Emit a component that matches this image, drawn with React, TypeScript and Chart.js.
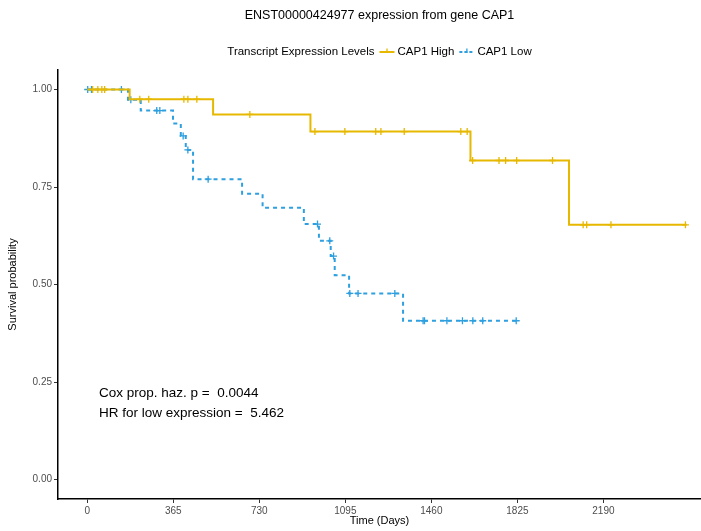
import React, { useEffect, useRef } from "react";
import { Chart, registerables } from "chart.js";

Chart.register(...registerables);

const FONT = '"Liberation Sans", Arial, sans-serif';

const TITLE = "ENST00000424977 expression from gene CAP1";
const LEGEND_TITLE = "Transcript Expression Levels";
const SERIES_NAMES = ["CAP1 High", "CAP1 Low"];
const SERIES_COLORS = ["#E7B800", "#2E9FDF"];
const X_TITLE = "Time (Days)";
const Y_TITLE = "Survival probability";
const X_TICKS = [0, 365, 730, 1095, 1460, 1825, 2190];
const Y_TICKS = [0, 0.25, 0.5, 0.75, 1];
const ANNOTATION = ["Cox prop. haz. p =  0.0044", "HR for low expression =  5.462"];
const ANNOTATION_X = 50;
const ANNOTATION_Y = [0.222, 0.171];

// CAP1 High: event times and survival after each step (last = end of follow-up)
const highTimes = [0, 180, 534, 947, 1626, 2044, 2543];
const highSurv = [1, 0.975, 0.936, 0.892, 0.818, 0.653, 0.653];
const highCensor = [23, 45, 62, 74, 223, 261, 410, 427, 465, 690, 966, 1093, 1224, 1246, 1345, 1585, 1612, 1635, 1747, 1775, 1822, 1974, 2104, 2119, 2222, 2538];

// CAP1 Low
const lowTimes = [0, 173, 227, 364, 397, 418, 449, 657, 744, 919, 983, 1033, 1050, 1111, 1340, 1826];
const lowSurv = [1, 0.974, 0.946, 0.913, 0.881, 0.845, 0.77, 0.733, 0.697, 0.655, 0.612, 0.573, 0.524, 0.477, 0.407, 0.407];
const lowCensor = [2, 18, 145, 185, 295, 308, 407, 427, 513, 977, 1029, 1045, 1114, 1149, 1305, 1425, 1431, 1526, 1592, 1636, 1678, 1820];

function survAt(times: number[], surv: number[], t: number) {
  let s = surv[0];
  for (let i = 0; i < times.length; i++) if (times[i] <= t) s = surv[i];
  return s;
}

const textPlugin = {
  id: "kmTexts",
  afterDraw(chart: any) {
    const { ctx, chartArea } = chart;
    const xs = chart.scales.x;
    const ys = chart.scales.y;
    const cx = (chartArea.left + chartArea.right) / 2;
    ctx.save();
    ctx.fillStyle = "#000";
    ctx.textBaseline = "middle";
    // title
    ctx.textAlign = "center";
    ctx.font = `12.5px ${FONT}`;
    ctx.fillText(TITLE, cx, 16);
    // legend
    ctx.font = `11.5px ${FONT}`;
    const keyW = 15;
    const w0 = ctx.measureText(LEGEND_TITLE).width;
    const w1 = ctx.measureText(SERIES_NAMES[0]).width;
    const w2 = ctx.measureText(SERIES_NAMES[1]).width;
    const total = w0 + 5 + keyW + 3 + w1 + 5 + keyW + 3 + w2;
    let lx = cx - total / 2;
    const ly = 52;
    ctx.textAlign = "left";
    ctx.fillText(LEGEND_TITLE, lx, ly);
    lx += w0 + 5;
    const drawKey = (x: number, color: string, dashed: boolean) => {
      ctx.save();
      ctx.strokeStyle = color;
      ctx.lineWidth = 2;
      if (dashed) ctx.setLineDash([3, 2]);
      ctx.beginPath();
      ctx.moveTo(x, ly);
      ctx.lineTo(x + keyW, ly);
      ctx.stroke();
      ctx.setLineDash([]);
      ctx.lineWidth = 1.3;
      ctx.beginPath();
      ctx.moveTo(x + keyW / 2, ly - 3.5);
      ctx.lineTo(x + keyW / 2, ly + 1);
      ctx.stroke();
      ctx.restore();
    };
    drawKey(lx, SERIES_COLORS[0], false);
    lx += keyW + 3;
    ctx.fillText(SERIES_NAMES[0], lx, ly);
    lx += w1 + 5;
    drawKey(lx, SERIES_COLORS[1], true);
    lx += keyW + 3;
    ctx.fillText(SERIES_NAMES[1], lx, ly);
    // annotation
    ctx.font = `13.5px ${FONT}`;
    ctx.textAlign = "left";
    ANNOTATION.forEach((t, i) => {
      ctx.fillText(t, xs.getPixelForValue(ANNOTATION_X), ys.getPixelForValue(ANNOTATION_Y[i]));
    });
    // axis titles
    ctx.font = `11px ${FONT}`;
    ctx.textAlign = "center";
    ctx.fillText(X_TITLE, cx, 521);
    ctx.translate(13, (chartArea.top + chartArea.bottom) / 2);
    ctx.rotate(-Math.PI / 2);
    ctx.fillText(Y_TITLE, 0, 0);
    ctx.restore();
  },
};

export default function App() {
  const ref = useRef<HTMLCanvasElement | null>(null);
  useEffect(() => {
    if (!ref.current) return;
    const stepData = (times: number[], surv: number[]) => times.map((t, i) => ({ x: t, y: surv[i] }));
    const censorData = (c: number[], times: number[], surv: number[]) =>
      c.map((t) => ({ x: t, y: survAt(times, surv, t) }));
    const chart = new Chart(ref.current, {
      type: "line",
      data: {
        datasets: [
          {
            label: SERIES_NAMES[0],
            data: stepData(highTimes, highSurv),
            borderColor: SERIES_COLORS[0],
            borderWidth: 2,
            stepped: true,
            pointRadius: 0,
            fill: false,
          },
          {
            label: SERIES_NAMES[0] + " censored",
            data: censorData(highCensor, highTimes, highSurv),
            borderColor: SERIES_COLORS[0],
            backgroundColor: SERIES_COLORS[0],
            showLine: false,
            pointStyle: "cross",
            pointRadius: 3.5,
            pointBorderWidth: 1.3,
          },
          {
            label: SERIES_NAMES[1],
            data: stepData(lowTimes, lowSurv),
            borderColor: SERIES_COLORS[1],
            borderWidth: 2,
            borderDash: [4, 4],
            stepped: true,
            pointRadius: 0,
            fill: false,
          },
          {
            label: SERIES_NAMES[1] + " censored",
            data: censorData(lowCensor, lowTimes, lowSurv),
            borderColor: SERIES_COLORS[1],
            backgroundColor: SERIES_COLORS[1],
            showLine: false,
            pointStyle: "cross",
            pointRadius: 3.5,
            pointBorderWidth: 1.3,
          },
        ],
      },
      options: {
        animation: false,
        responsive: false,
        devicePixelRatio: 1,
        layout: { autoPadding: false, padding: { top: 70, left: 0, right: 0, bottom: 0 } },
        plugins: { legend: { display: false }, title: { display: false }, tooltip: { enabled: false } },
        scales: {
          x: {
            type: "linear",
            min: -124,
            max: 2604,
            afterBuildTicks: (s: any) => {
              s.ticks = X_TICKS.map((v) => ({ value: v }));
            },
            afterFit: (s: any) => {
              s.height = 32;
              s.paddingLeft = 0;
              s.paddingRight = 0;
            },
            ticks: {
              callback: (v: any) => String(v),
              font: { size: 10, family: FONT },
              color: "#4d4d4d",
              padding: 2,
              maxRotation: 0,
              autoSkip: false,
            },
            grid: { drawOnChartArea: false, drawTicks: true, tickLength: 4, color: "#333", lineWidth: 1 },
            border: { display: true, color: "#000", width: 1.5 },
          },
          y: {
            type: "linear",
            min: -0.05,
            max: 1.05,
            afterBuildTicks: (s: any) => {
              s.ticks = Y_TICKS.map((v) => ({ value: v }));
            },
            afterFit: (s: any) => {
              s.width = 58;
              s.paddingTop = 0;
              s.paddingBottom = 0;
            },
            ticks: {
              callback: (v: any) => Number(v).toFixed(2),
              font: { size: 10, family: FONT },
              color: "#4d4d4d",
              padding: 2,
              autoSkip: false,
            },
            grid: { drawOnChartArea: false, drawTicks: true, tickLength: 4, color: "#333", lineWidth: 1 },
            border: { display: true, color: "#000", width: 1.5 },
          },
        },
      },
      plugins: [textPlugin],
    });
    return () => chart.destroy();
  }, []);
  return (
    <div style={{ position: "fixed", left: 0, top: 0, width: 701, height: 531, background: "#fff" }}>
      <canvas ref={ref} width={701} height={531} />
    </div>
  );
}
